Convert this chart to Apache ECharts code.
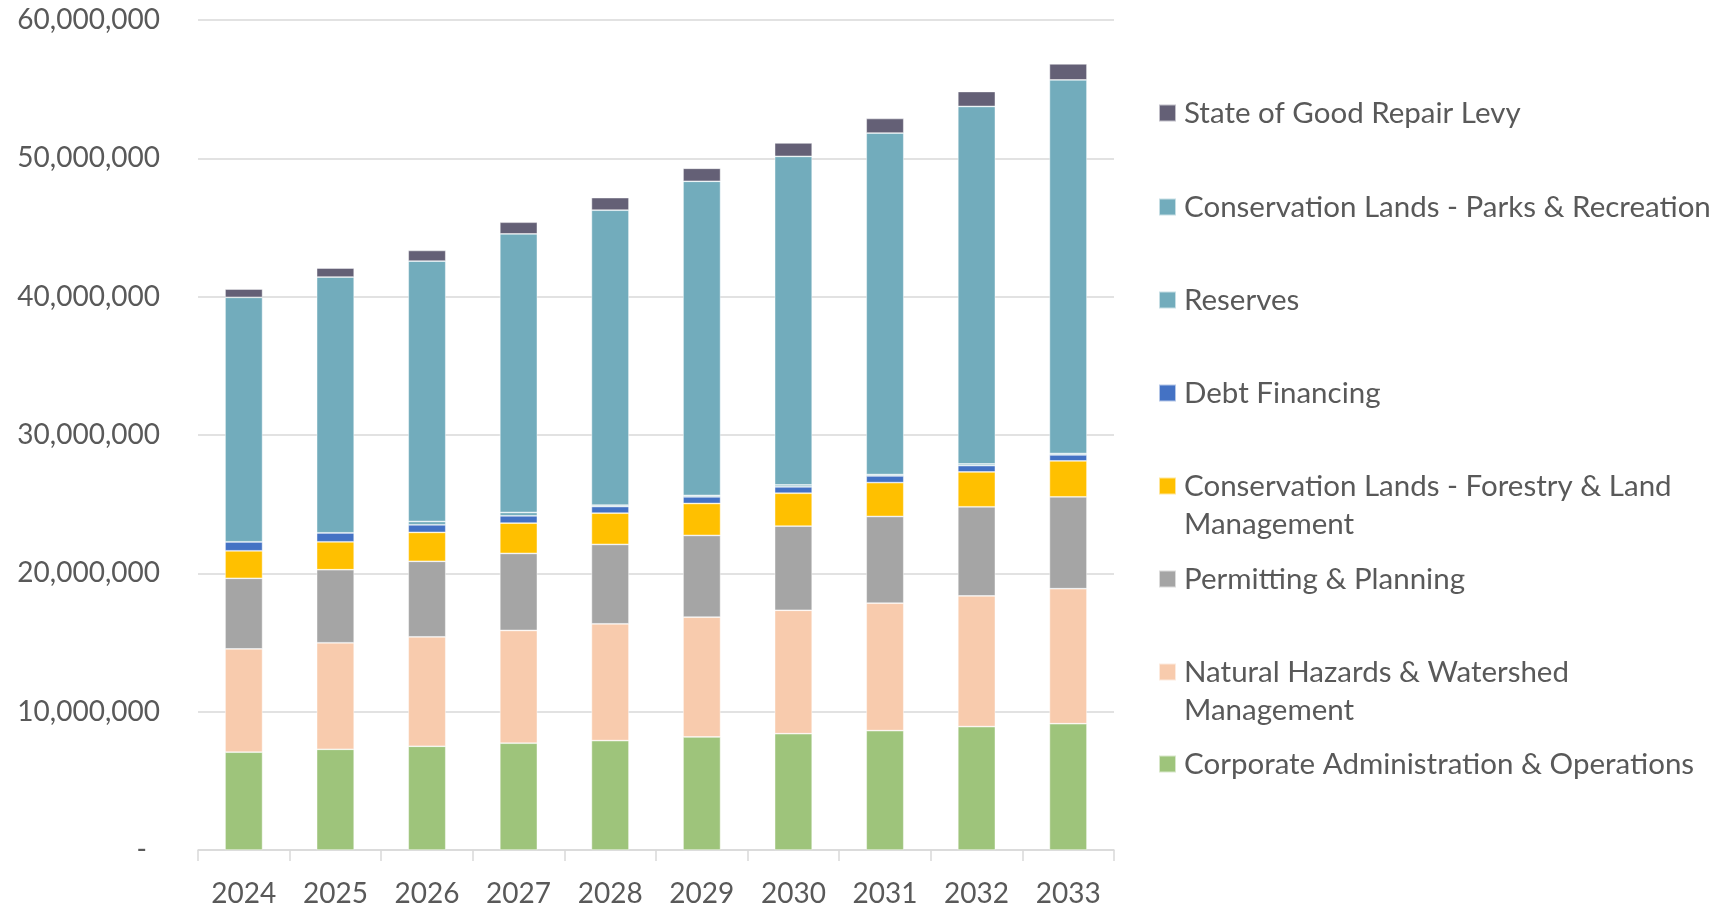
<!DOCTYPE html>
<html>
<head>
<meta charset="utf-8">
<script src="https://cdn.jsdelivr.net/npm/echarts@6/dist/echarts.min.js"></script>
<style>
html,body{margin:0;padding:0;background:#fff;}
#chart{width:1725px;height:908px;}
</style>
</head>
<body>
<div id="chart"></div>
<script>
// ---- data ----
const years = ['2024','2025','2026','2027','2028','2029','2030','2031','2032','2033'];
const corporateAdmin = [7070000, 7280000, 7500000, 7720000, 7910000, 8170000, 8410000, 8630000, 8920000, 9130000];
const naturalHazards = [7470000, 7700000, 7910000, 8150000, 8440000, 8660000, 8920000, 9210000, 9450000, 9760000];
const permitting = [5100000, 5280000, 5460000, 5570000, 5740000, 5910000, 6080000, 6270000, 6440000, 6640000];
const forestry = [1990000, 2020000, 2090000, 2190000, 2260000, 2310000, 2380000, 2450000, 2520000, 2600000];
const debtFinancing = [650000, 650000, 550000, 530000, 480000, 480000, 460000, 480000, 460000, 430000];
const reserves = [0, 0, 240000, 240000, 100000, 100000, 140000, 100000, 120000, 100000];
const parksRecreation = [17670000, 18490000, 18820000, 20140000, 21320000, 22710000, 23750000, 24690000, 25840000, 27010000];
const sgrLevy = [600000, 650000, 770000, 840000, 910000, 940000, 970000, 1050000, 1080000, 1160000];
const yTicks = [0, 10000000, 20000000, 30000000, 40000000, 50000000, 60000000];

const seriesNames = [
  'Corporate Administration & Operations',
  'Natural Hazards & Watershed Management',
  'Permitting & Planning',
  'Conservation Lands - Forestry & Land Management',
  'Debt Financing',
  'Reserves',
  'Conservation Lands - Parks & Recreation',
  'State of Good Repair Levy'
];
const seriesData = [corporateAdmin, naturalHazards, permitting, forestry, debtFinancing, reserves, parksRecreation, sgrLevy];
const colors = ['#9EC47B', '#F8CBAD', '#A5A5A5', '#FFC000', '#4472C4', '#72ACBC', '#72ACBC', '#646076'];

// legend display text (wrapped like the reference)
const legendText = {
  'Conservation Lands - Forestry & Land Management': '\nConservation Lands - Forestry & Land\nManagement',
  'Natural Hazards & Watershed Management': '\nNatural Hazards & Watershed\nManagement'
};
const legendOrder = seriesNames.slice().reverse();
const legendFirstLineY = [113, 207, 300, 393, 486, 579, 672, 764];
const FONT = 'Lato';
const TXT = '#595959';
const LH = 38;

const legends = legendOrder.map((name, i) => {
  const wrapped = !!legendText[name];
  return {
    data: [name],
    orient: 'vertical',
    left: 1158,
    top: legendFirstLineY[i] - (wrapped ? 1.5 * LH : 0.5 * LH),
    padding: 0,
    itemGap: 0,
    itemWidth: 17,
    itemHeight: 17,
    icon: 'rect',
    selectedMode: false,
    formatter: n => legendText[n] || n,
    textStyle: { fontFamily: FONT, fontSize: 29.5, color: TXT, lineHeight: LH, padding: [0, 0, 0, 3] }
  };
});

const chart = echarts.init(document.getElementById('chart'), null, { renderer: 'canvas' });
chart.setOption({
  animation: false,
  backgroundColor: '#ffffff',
  color: colors,
  grid: { left: 198, right: 611, top: 20, bottom: 57, containLabel: false },
  legend: legends,
  xAxis: {
    type: 'category',
    data: years,
    boundaryGap: true,
    axisLine: { show: true, lineStyle: { color: '#D9D9D9', width: 1.5 } },
    axisTick: { show: true, alignWithLabel: false, length: 11, lineStyle: { color: '#D9D9D9', width: 1.5 } },
    axisLabel: { fontFamily: FONT, fontSize: 28, color: TXT, margin: 30 }
  },
  yAxis: {
    type: 'value',
    min: yTicks[0],
    max: yTicks[yTicks.length - 1],
    interval: yTicks[1] - yTicks[0],
    axisLine: { show: false },
    axisTick: { show: false },
    splitLine: { show: true, lineStyle: { color: '#D9D9D9', width: 1.5 } },
    axisLabel: {
      fontFamily: FONT, fontSize: 28, color: TXT, margin: 38,
      formatter: v => v === 0 ? '{z|-}' : v.toLocaleString('en-US'),
      rich: { z: { fontFamily: FONT, fontSize: 28, color: TXT, padding: [0, 13, 0, 0] } }
    }
  },
  series: seriesNames.map((name, i) => ({
    name: name,
    type: 'bar',
    stack: 'total',
    barWidth: '41%',
    data: seriesData[i],
    itemStyle: { color: colors[i], borderColor: 'rgba(255,255,255,0.6)', borderWidth: 0.75 }
  }))
});
</script>
</body>
</html>
